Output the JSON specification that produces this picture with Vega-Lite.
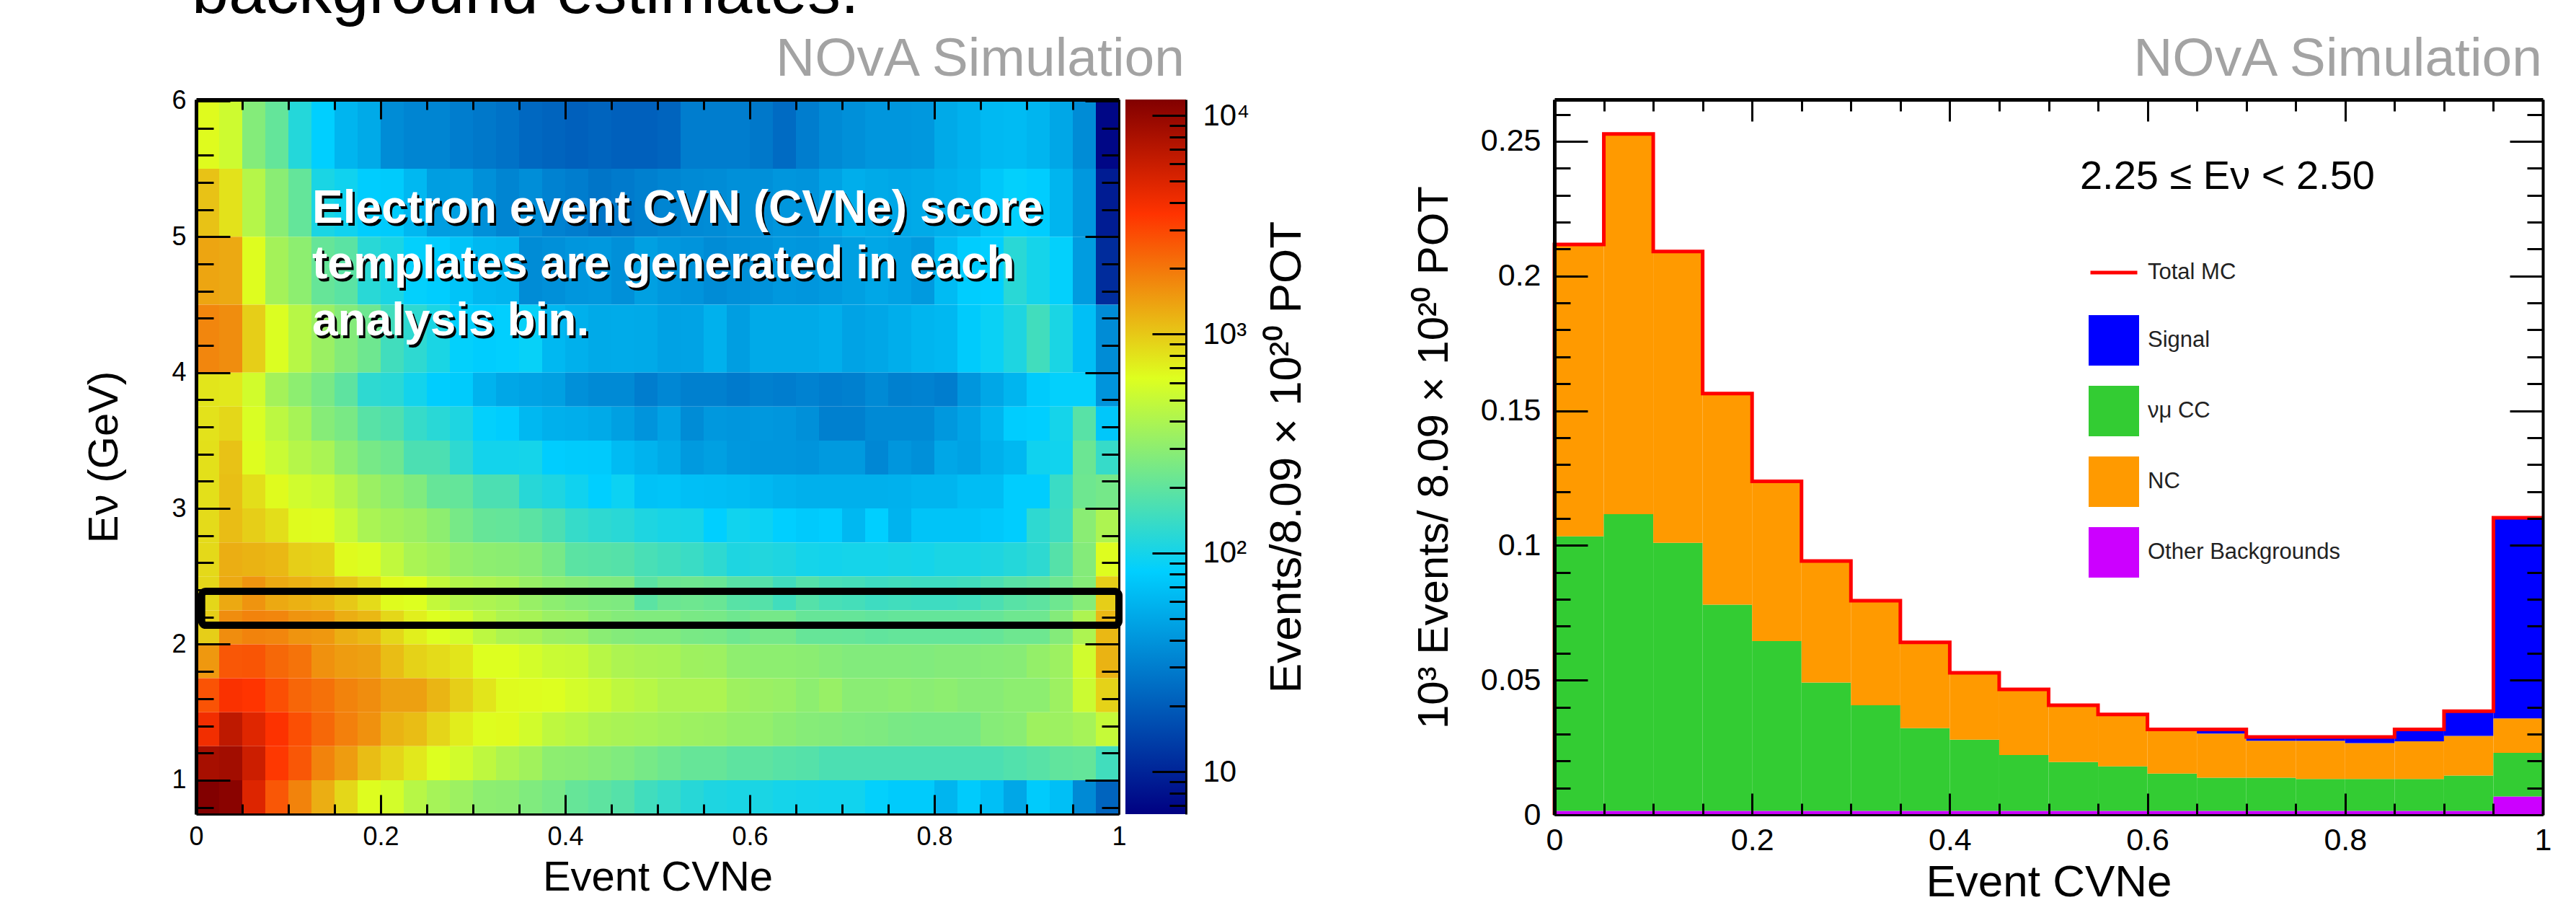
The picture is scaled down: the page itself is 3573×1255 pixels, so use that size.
{"$schema":"https://vega.github.io/schema/vega-lite/v6.json","autosize":"none","background":"white","padding":{"left":272,"top":138,"right":3301,"bottom":1117},"bounds":"flush","spacing":9,"config":{"view":{"stroke":null},"axis":{"labelFont":"Liberation Sans","titleFont":"Liberation Sans","titleFontWeight":"normal","labelColor":"#000","titleColor":"#000","tickColor":"#000","domainColor":"#000","grid":false,"labelOverlap":false,"labelBound":false,"labelFlush":false,"tickWidth":3},"legend":{"labelFont":"Liberation Sans","labelColor":"#222"}},"datasets":{"xbins":[{"c":0,"x0":0,"x1":0.025},{"c":1,"x0":0.025,"x1":0.05},{"c":2,"x0":0.05,"x1":0.075},{"c":3,"x0":0.075,"x1":0.1},{"c":4,"x0":0.1,"x1":0.125},{"c":5,"x0":0.125,"x1":0.15},{"c":6,"x0":0.15,"x1":0.175},{"c":7,"x0":0.175,"x1":0.2},{"c":8,"x0":0.2,"x1":0.225},{"c":9,"x0":0.225,"x1":0.25},{"c":10,"x0":0.25,"x1":0.275},{"c":11,"x0":0.275,"x1":0.3},{"c":12,"x0":0.3,"x1":0.325},{"c":13,"x0":0.325,"x1":0.35},{"c":14,"x0":0.35,"x1":0.375},{"c":15,"x0":0.375,"x1":0.4},{"c":16,"x0":0.4,"x1":0.425},{"c":17,"x0":0.425,"x1":0.45},{"c":18,"x0":0.45,"x1":0.475},{"c":19,"x0":0.475,"x1":0.5},{"c":20,"x0":0.5,"x1":0.525},{"c":21,"x0":0.525,"x1":0.55},{"c":22,"x0":0.55,"x1":0.575},{"c":23,"x0":0.575,"x1":0.6},{"c":24,"x0":0.6,"x1":0.625},{"c":25,"x0":0.625,"x1":0.65},{"c":26,"x0":0.65,"x1":0.675},{"c":27,"x0":0.675,"x1":0.7},{"c":28,"x0":0.7,"x1":0.725},{"c":29,"x0":0.725,"x1":0.75},{"c":30,"x0":0.75,"x1":0.775},{"c":31,"x0":0.775,"x1":0.8},{"c":32,"x0":0.8,"x1":0.825},{"c":33,"x0":0.825,"x1":0.85},{"c":34,"x0":0.85,"x1":0.875},{"c":35,"x0":0.875,"x1":0.9},{"c":36,"x0":0.9,"x1":0.925},{"c":37,"x0":0.925,"x1":0.95},{"c":38,"x0":0.95,"x1":0.975},{"c":39,"x0":0.975,"x1":1}],"ebins":[{"r":0,"e0":0.75,"e1":1},{"r":1,"e0":1,"e1":1.25},{"r":2,"e0":1.25,"e1":1.5},{"r":3,"e0":1.5,"e1":1.75},{"r":4,"e0":1.75,"e1":2},{"r":5,"e0":2,"e1":2.25},{"r":6,"e0":2.25,"e1":2.5},{"r":7,"e0":2.5,"e1":2.75},{"r":8,"e0":2.75,"e1":3},{"r":9,"e0":3,"e1":3.25},{"r":10,"e0":3.25,"e1":3.5},{"r":11,"e0":3.5,"e1":3.75},{"r":12,"e0":3.75,"e1":4},{"r":13,"e0":4,"e1":4.5},{"r":14,"e0":4.5,"e1":5},{"r":15,"e0":5,"e1":5.5},{"r":16,"e0":5.5,"e1":6.01}],"cells":[
{"r":16,"c":0,"n":650},{"r":16,"c":1,"n":540},{"r":16,"c":2,"n":276},{"r":16,"c":3,"n":205},{"r":16,"c":4,"n":115},{"r":16,"c":5,"n":82},{"r":16,"c":6,"n":60},{"r":16,"c":7,"n":52},{"r":16,"c":8,"n":36},{"r":16,"c":9,"n":33},{"r":16,"c":10,"n":33},{"r":16,"c":11,"n":30},{"r":16,"c":12,"n":28},{"r":16,"c":13,"n":26},{"r":16,"c":14,"n":23},{"r":16,"c":15,"n":22},{"r":16,"c":16,"n":21},{"r":16,"c":17,"n":22},{"r":16,"c":18,"n":21},{"r":16,"c":19,"n":21},{"r":16,"c":20,"n":22},{"r":16,"c":21,"n":30},{"r":16,"c":22,"n":30},{"r":16,"c":23,"n":30},{"r":16,"c":24,"n":28},{"r":16,"c":25,"n":24},{"r":16,"c":26,"n":30},{"r":16,"c":27,"n":35},{"r":16,"c":28,"n":38},{"r":16,"c":29,"n":41},{"r":16,"c":30,"n":41},{"r":16,"c":31,"n":42},{"r":16,"c":32,"n":52},{"r":16,"c":33,"n":57},{"r":16,"c":34,"n":63},{"r":16,"c":35,"n":64},{"r":16,"c":36,"n":60},{"r":16,"c":37,"n":50},{"r":16,"c":38,"n":36},{"r":16,"c":39,"n":7},
{"r":15,"c":0,"n":1050},{"r":15,"c":1,"n":800},{"r":15,"c":2,"n":430},{"r":15,"c":3,"n":290},{"r":15,"c":4,"n":205},{"r":15,"c":5,"n":105},{"r":15,"c":6,"n":95},{"r":15,"c":7,"n":80},{"r":15,"c":8,"n":78},{"r":15,"c":9,"n":62},{"r":15,"c":10,"n":45},{"r":15,"c":11,"n":46},{"r":15,"c":12,"n":38},{"r":15,"c":13,"n":33},{"r":15,"c":14,"n":37},{"r":15,"c":15,"n":32},{"r":15,"c":16,"n":30},{"r":15,"c":17,"n":27},{"r":15,"c":18,"n":29},{"r":15,"c":19,"n":31},{"r":15,"c":20,"n":33},{"r":15,"c":21,"n":35},{"r":15,"c":22,"n":36},{"r":15,"c":23,"n":38},{"r":15,"c":24,"n":38},{"r":15,"c":25,"n":41},{"r":15,"c":26,"n":40},{"r":15,"c":27,"n":47},{"r":15,"c":28,"n":55},{"r":15,"c":29,"n":52},{"r":15,"c":30,"n":50},{"r":15,"c":31,"n":52},{"r":15,"c":32,"n":56},{"r":15,"c":33,"n":60},{"r":15,"c":34,"n":75},{"r":15,"c":35,"n":85},{"r":15,"c":36,"n":80},{"r":15,"c":37,"n":60},{"r":15,"c":38,"n":42},{"r":15,"c":39,"n":9},
{"r":14,"c":0,"n":1350},{"r":14,"c":1,"n":1300},{"r":14,"c":2,"n":640},{"r":14,"c":3,"n":370},{"r":14,"c":4,"n":300},{"r":14,"c":5,"n":210},{"r":14,"c":6,"n":190},{"r":14,"c":7,"n":120},{"r":14,"c":8,"n":105},{"r":14,"c":9,"n":85},{"r":14,"c":10,"n":80},{"r":14,"c":11,"n":72},{"r":14,"c":12,"n":62},{"r":14,"c":13,"n":60},{"r":14,"c":14,"n":36},{"r":14,"c":15,"n":38},{"r":14,"c":16,"n":41},{"r":14,"c":17,"n":42},{"r":14,"c":18,"n":38},{"r":14,"c":19,"n":46},{"r":14,"c":20,"n":42},{"r":14,"c":21,"n":40},{"r":14,"c":22,"n":36},{"r":14,"c":23,"n":38},{"r":14,"c":24,"n":39},{"r":14,"c":25,"n":42},{"r":14,"c":26,"n":41},{"r":14,"c":27,"n":43},{"r":14,"c":28,"n":46},{"r":14,"c":29,"n":50},{"r":14,"c":30,"n":47},{"r":14,"c":31,"n":43},{"r":14,"c":32,"n":64},{"r":14,"c":33,"n":80},{"r":14,"c":34,"n":82},{"r":14,"c":35,"n":120},{"r":14,"c":36,"n":100},{"r":14,"c":37,"n":85},{"r":14,"c":38,"n":44},{"r":14,"c":39,"n":11},
{"r":13,"c":0,"n":1750},{"r":13,"c":1,"n":1650},{"r":13,"c":2,"n":950},{"r":13,"c":3,"n":610},{"r":13,"c":4,"n":440},{"r":13,"c":5,"n":340},{"r":13,"c":6,"n":275},{"r":13,"c":7,"n":225},{"r":13,"c":8,"n":150},{"r":13,"c":9,"n":125},{"r":13,"c":10,"n":105},{"r":13,"c":11,"n":85},{"r":13,"c":12,"n":80},{"r":13,"c":13,"n":83},{"r":13,"c":14,"n":88},{"r":13,"c":15,"n":62},{"r":13,"c":16,"n":56},{"r":13,"c":17,"n":52},{"r":13,"c":18,"n":53},{"r":13,"c":19,"n":52},{"r":13,"c":20,"n":47},{"r":13,"c":21,"n":48},{"r":13,"c":22,"n":57},{"r":13,"c":23,"n":45},{"r":13,"c":24,"n":52},{"r":13,"c":25,"n":52},{"r":13,"c":26,"n":52},{"r":13,"c":27,"n":55},{"r":13,"c":28,"n":48},{"r":13,"c":29,"n":50},{"r":13,"c":30,"n":55},{"r":13,"c":31,"n":60},{"r":13,"c":32,"n":62},{"r":13,"c":33,"n":78},{"r":13,"c":34,"n":90},{"r":13,"c":35,"n":108},{"r":13,"c":36,"n":150},{"r":13,"c":37,"n":105},{"r":13,"c":38,"n":68},{"r":13,"c":39,"n":36},
{"r":12,"c":0,"n":780},{"r":12,"c":1,"n":760},{"r":12,"c":2,"n":560},{"r":12,"c":3,"n":370},{"r":12,"c":4,"n":300},{"r":12,"c":5,"n":250},{"r":12,"c":6,"n":195},{"r":12,"c":7,"n":125},{"r":12,"c":8,"n":120},{"r":12,"c":9,"n":98},{"r":12,"c":10,"n":80},{"r":12,"c":11,"n":78},{"r":12,"c":12,"n":58},{"r":12,"c":13,"n":50},{"r":12,"c":14,"n":48},{"r":12,"c":15,"n":46},{"r":12,"c":16,"n":38},{"r":12,"c":17,"n":35},{"r":12,"c":18,"n":35},{"r":12,"c":19,"n":30},{"r":12,"c":20,"n":34},{"r":12,"c":21,"n":31},{"r":12,"c":22,"n":31},{"r":12,"c":23,"n":29},{"r":12,"c":24,"n":31},{"r":12,"c":25,"n":30},{"r":12,"c":26,"n":32},{"r":12,"c":27,"n":30},{"r":12,"c":28,"n":31},{"r":12,"c":29,"n":35},{"r":12,"c":30,"n":31},{"r":12,"c":31,"n":32},{"r":12,"c":32,"n":30},{"r":12,"c":33,"n":41},{"r":12,"c":34,"n":50},{"r":12,"c":35,"n":60},{"r":12,"c":36,"n":78},{"r":12,"c":37,"n":85},{"r":12,"c":38,"n":85},{"r":12,"c":39,"n":40},
{"r":11,"c":0,"n":800},{"r":11,"c":1,"n":880},{"r":11,"c":2,"n":600},{"r":11,"c":3,"n":460},{"r":11,"c":4,"n":380},{"r":11,"c":5,"n":280},{"r":11,"c":6,"n":250},{"r":11,"c":7,"n":185},{"r":11,"c":8,"n":170},{"r":11,"c":9,"n":135},{"r":11,"c":10,"n":120},{"r":11,"c":11,"n":108},{"r":11,"c":12,"n":85},{"r":11,"c":13,"n":80},{"r":11,"c":14,"n":62},{"r":11,"c":15,"n":56},{"r":11,"c":16,"n":55},{"r":11,"c":17,"n":52},{"r":11,"c":18,"n":46},{"r":11,"c":19,"n":40},{"r":11,"c":20,"n":47},{"r":11,"c":21,"n":36},{"r":11,"c":22,"n":42},{"r":11,"c":23,"n":41},{"r":11,"c":24,"n":42},{"r":11,"c":25,"n":41},{"r":11,"c":26,"n":38},{"r":11,"c":27,"n":31},{"r":11,"c":28,"n":31},{"r":11,"c":29,"n":35},{"r":11,"c":30,"n":35},{"r":11,"c":31,"n":35},{"r":11,"c":32,"n":42},{"r":11,"c":33,"n":48},{"r":11,"c":34,"n":60},{"r":11,"c":35,"n":80},{"r":11,"c":36,"n":82},{"r":11,"c":37,"n":100},{"r":11,"c":38,"n":185},{"r":11,"c":39,"n":75},
{"r":10,"c":0,"n":820},{"r":10,"c":1,"n":1050},{"r":10,"c":2,"n":640},{"r":10,"c":3,"n":520},{"r":10,"c":4,"n":430},{"r":10,"c":5,"n":390},{"r":10,"c":6,"n":300},{"r":10,"c":7,"n":245},{"r":10,"c":8,"n":225},{"r":10,"c":9,"n":165},{"r":10,"c":10,"n":165},{"r":10,"c":11,"n":125},{"r":10,"c":12,"n":98},{"r":10,"c":13,"n":98},{"r":10,"c":14,"n":100},{"r":10,"c":15,"n":80},{"r":10,"c":16,"n":78},{"r":10,"c":17,"n":77},{"r":10,"c":18,"n":64},{"r":10,"c":19,"n":58},{"r":10,"c":20,"n":52},{"r":10,"c":21,"n":43},{"r":10,"c":22,"n":46},{"r":10,"c":23,"n":42},{"r":10,"c":24,"n":41},{"r":10,"c":25,"n":41},{"r":10,"c":26,"n":40},{"r":10,"c":27,"n":43},{"r":10,"c":28,"n":43},{"r":10,"c":29,"n":34},{"r":10,"c":30,"n":41},{"r":10,"c":31,"n":38},{"r":10,"c":32,"n":50},{"r":10,"c":33,"n":47},{"r":10,"c":34,"n":56},{"r":10,"c":35,"n":62},{"r":10,"c":36,"n":95},{"r":10,"c":37,"n":96},{"r":10,"c":38,"n":220},{"r":10,"c":39,"n":135},
{"r":9,"c":0,"n":820},{"r":9,"c":1,"n":1080},{"r":9,"c":2,"n":830},{"r":9,"c":3,"n":650},{"r":9,"c":4,"n":550},{"r":9,"c":5,"n":520},{"r":9,"c":6,"n":420},{"r":9,"c":7,"n":340},{"r":9,"c":8,"n":300},{"r":9,"c":9,"n":265},{"r":9,"c":10,"n":210},{"r":9,"c":11,"n":205},{"r":9,"c":12,"n":165},{"r":9,"c":13,"n":165},{"r":9,"c":14,"n":118},{"r":9,"c":15,"n":108},{"r":9,"c":16,"n":95},{"r":9,"c":17,"n":82},{"r":9,"c":18,"n":92},{"r":9,"c":19,"n":70},{"r":9,"c":20,"n":72},{"r":9,"c":21,"n":68},{"r":9,"c":22,"n":67},{"r":9,"c":23,"n":65},{"r":9,"c":24,"n":62},{"r":9,"c":25,"n":58},{"r":9,"c":26,"n":56},{"r":9,"c":27,"n":56},{"r":9,"c":28,"n":56},{"r":9,"c":29,"n":56},{"r":9,"c":30,"n":57},{"r":9,"c":31,"n":60},{"r":9,"c":32,"n":60},{"r":9,"c":33,"n":66},{"r":9,"c":34,"n":66},{"r":9,"c":35,"n":80},{"r":9,"c":36,"n":80},{"r":9,"c":37,"n":140},{"r":9,"c":38,"n":225},{"r":9,"c":39,"n":240},
{"r":8,"c":0,"n":850},{"r":8,"c":1,"n":1100},{"r":8,"c":2,"n":950},{"r":8,"c":3,"n":830},{"r":8,"c":4,"n":650},{"r":8,"c":5,"n":640},{"r":8,"c":6,"n":500},{"r":8,"c":7,"n":390},{"r":8,"c":8,"n":360},{"r":8,"c":9,"n":340},{"r":8,"c":10,"n":300},{"r":8,"c":11,"n":245},{"r":8,"c":12,"n":210},{"r":8,"c":13,"n":205},{"r":8,"c":14,"n":190},{"r":8,"c":15,"n":165},{"r":8,"c":16,"n":135},{"r":8,"c":17,"n":125},{"r":8,"c":18,"n":120},{"r":8,"c":19,"n":108},{"r":8,"c":20,"n":103},{"r":8,"c":21,"n":102},{"r":8,"c":22,"n":82},{"r":8,"c":23,"n":96},{"r":8,"c":24,"n":92},{"r":8,"c":25,"n":82},{"r":8,"c":26,"n":77},{"r":8,"c":27,"n":80},{"r":8,"c":28,"n":62},{"r":8,"c":29,"n":82},{"r":8,"c":30,"n":58},{"r":8,"c":31,"n":72},{"r":8,"c":32,"n":72},{"r":8,"c":33,"n":72},{"r":8,"c":34,"n":76},{"r":8,"c":35,"n":80},{"r":8,"c":36,"n":125},{"r":8,"c":37,"n":145},{"r":8,"c":38,"n":290},{"r":8,"c":39,"n":400},
{"r":7,"c":0,"n":870},{"r":7,"c":1,"n":1250},{"r":7,"c":2,"n":1200},{"r":7,"c":3,"n":1150},{"r":7,"c":4,"n":950},{"r":7,"c":5,"n":920},{"r":7,"c":6,"n":650},{"r":7,"c":7,"n":610},{"r":7,"c":8,"n":480},{"r":7,"c":9,"n":390},{"r":7,"c":10,"n":360},{"r":7,"c":11,"n":320},{"r":7,"c":12,"n":300},{"r":7,"c":13,"n":295},{"r":7,"c":14,"n":280},{"r":7,"c":15,"n":245},{"r":7,"c":16,"n":190},{"r":7,"c":17,"n":185},{"r":7,"c":18,"n":180},{"r":7,"c":19,"n":160},{"r":7,"c":20,"n":150},{"r":7,"c":21,"n":140},{"r":7,"c":22,"n":125},{"r":7,"c":23,"n":108},{"r":7,"c":24,"n":112},{"r":7,"c":25,"n":108},{"r":7,"c":26,"n":100},{"r":7,"c":27,"n":98},{"r":7,"c":28,"n":100},{"r":7,"c":29,"n":100},{"r":7,"c":30,"n":102},{"r":7,"c":31,"n":100},{"r":7,"c":32,"n":105},{"r":7,"c":33,"n":105},{"r":7,"c":34,"n":108},{"r":7,"c":35,"n":115},{"r":7,"c":36,"n":125},{"r":7,"c":37,"n":180},{"r":7,"c":38,"n":275},{"r":7,"c":39,"n":640},
{"r":6,"c":0,"n":880},{"r":6,"c":1,"n":1300},{"r":6,"c":2,"n":1550},{"r":6,"c":3,"n":1300},{"r":6,"c":4,"n":1220},{"r":6,"c":5,"n":1150},{"r":6,"c":6,"n":1000},{"r":6,"c":7,"n":850},{"r":6,"c":8,"n":650},{"r":6,"c":9,"n":620},{"r":6,"c":10,"n":490},{"r":6,"c":11,"n":420},{"r":6,"c":12,"n":400},{"r":6,"c":13,"n":380},{"r":6,"c":14,"n":330},{"r":6,"c":15,"n":300},{"r":6,"c":16,"n":280},{"r":6,"c":17,"n":265},{"r":6,"c":18,"n":260},{"r":6,"c":19,"n":190},{"r":6,"c":20,"n":220},{"r":6,"c":21,"n":225},{"r":6,"c":22,"n":215},{"r":6,"c":23,"n":185},{"r":6,"c":24,"n":180},{"r":6,"c":25,"n":150},{"r":6,"c":26,"n":180},{"r":6,"c":27,"n":160},{"r":6,"c":28,"n":155},{"r":6,"c":29,"n":145},{"r":6,"c":30,"n":150},{"r":6,"c":31,"n":145},{"r":6,"c":32,"n":145},{"r":6,"c":33,"n":150},{"r":6,"c":34,"n":165},{"r":6,"c":35,"n":185},{"r":6,"c":36,"n":195},{"r":6,"c":37,"n":225},{"r":6,"c":38,"n":280},{"r":6,"c":39,"n":950},
{"r":5,"c":0,"n":950},{"r":5,"c":1,"n":1650},{"r":5,"c":2,"n":1800},{"r":5,"c":3,"n":1750},{"r":5,"c":4,"n":1550},{"r":5,"c":5,"n":1500},{"r":5,"c":6,"n":1250},{"r":5,"c":7,"n":1150},{"r":5,"c":8,"n":880},{"r":5,"c":9,"n":720},{"r":5,"c":10,"n":620},{"r":5,"c":11,"n":570},{"r":5,"c":12,"n":460},{"r":5,"c":13,"n":400},{"r":5,"c":14,"n":380},{"r":5,"c":15,"n":340},{"r":5,"c":16,"n":330},{"r":5,"c":17,"n":290},{"r":5,"c":18,"n":275},{"r":5,"c":19,"n":265},{"r":5,"c":20,"n":265},{"r":5,"c":21,"n":250},{"r":5,"c":22,"n":245},{"r":5,"c":23,"n":225},{"r":5,"c":24,"n":240},{"r":5,"c":25,"n":240},{"r":5,"c":26,"n":210},{"r":5,"c":27,"n":210},{"r":5,"c":28,"n":208},{"r":5,"c":29,"n":200},{"r":5,"c":30,"n":205},{"r":5,"c":31,"n":205},{"r":5,"c":32,"n":205},{"r":5,"c":33,"n":205},{"r":5,"c":34,"n":210},{"r":5,"c":35,"n":225},{"r":5,"c":36,"n":225},{"r":5,"c":37,"n":275},{"r":5,"c":38,"n":400},{"r":5,"c":39,"n":1150},
{"r":4,"c":0,"n":1500},{"r":4,"c":1,"n":2600},{"r":4,"c":2,"n":2650},{"r":4,"c":3,"n":2250},{"r":4,"c":4,"n":2050},{"r":4,"c":5,"n":1600},{"r":4,"c":6,"n":1450},{"r":4,"c":7,"n":1400},{"r":4,"c":8,"n":1100},{"r":4,"c":9,"n":920},{"r":4,"c":10,"n":850},{"r":4,"c":11,"n":780},{"r":4,"c":12,"n":620},{"r":4,"c":13,"n":620},{"r":4,"c":14,"n":570},{"r":4,"c":15,"n":520},{"r":4,"c":16,"n":510},{"r":4,"c":17,"n":440},{"r":4,"c":18,"n":400},{"r":4,"c":19,"n":385},{"r":4,"c":20,"n":380},{"r":4,"c":21,"n":350},{"r":4,"c":22,"n":345},{"r":4,"c":23,"n":305},{"r":4,"c":24,"n":300},{"r":4,"c":25,"n":300},{"r":4,"c":26,"n":295},{"r":4,"c":27,"n":280},{"r":4,"c":28,"n":270},{"r":4,"c":29,"n":270},{"r":4,"c":30,"n":270},{"r":4,"c":31,"n":268},{"r":4,"c":32,"n":275},{"r":4,"c":33,"n":275},{"r":4,"c":34,"n":280},{"r":4,"c":35,"n":285},{"r":4,"c":36,"n":320},{"r":4,"c":37,"n":345},{"r":4,"c":38,"n":550},{"r":4,"c":39,"n":1200},
{"r":3,"c":0,"n":2700},{"r":3,"c":1,"n":3700},{"r":3,"c":2,"n":3500},{"r":3,"c":3,"n":2800},{"r":3,"c":4,"n":2300},{"r":3,"c":5,"n":2100},{"r":3,"c":6,"n":1800},{"r":3,"c":7,"n":1650},{"r":3,"c":8,"n":1400},{"r":3,"c":9,"n":1400},{"r":3,"c":10,"n":1180},{"r":3,"c":11,"n":950},{"r":3,"c":12,"n":780},{"r":3,"c":13,"n":650},{"r":3,"c":14,"n":640},{"r":3,"c":15,"n":620},{"r":3,"c":16,"n":570},{"r":3,"c":17,"n":530},{"r":3,"c":18,"n":470},{"r":3,"c":19,"n":440},{"r":3,"c":20,"n":400},{"r":3,"c":21,"n":400},{"r":3,"c":22,"n":400},{"r":3,"c":23,"n":350},{"r":3,"c":24,"n":340},{"r":3,"c":25,"n":330},{"r":3,"c":26,"n":300},{"r":3,"c":27,"n":330},{"r":3,"c":28,"n":290},{"r":3,"c":29,"n":290},{"r":3,"c":30,"n":300},{"r":3,"c":31,"n":290},{"r":3,"c":32,"n":300},{"r":3,"c":33,"n":285},{"r":3,"c":34,"n":285},{"r":3,"c":35,"n":300},{"r":3,"c":36,"n":300},{"r":3,"c":37,"n":345},{"r":3,"c":38,"n":530},{"r":3,"c":39,"n":920},
{"r":2,"c":0,"n":4000},{"r":2,"c":1,"n":6600},{"r":2,"c":2,"n":4800},{"r":2,"c":3,"n":3600},{"r":2,"c":4,"n":2800},{"r":2,"c":5,"n":2250},{"r":2,"c":6,"n":1850},{"r":2,"c":7,"n":1600},{"r":2,"c":8,"n":1200},{"r":2,"c":9,"n":1100},{"r":2,"c":10,"n":900},{"r":2,"c":11,"n":730},{"r":2,"c":12,"n":640},{"r":2,"c":13,"n":650},{"r":2,"c":14,"n":560},{"r":2,"c":15,"n":470},{"r":2,"c":16,"n":440},{"r":2,"c":17,"n":400},{"r":2,"c":18,"n":385},{"r":2,"c":19,"n":375},{"r":2,"c":20,"n":360},{"r":2,"c":21,"n":345},{"r":2,"c":22,"n":340},{"r":2,"c":23,"n":320},{"r":2,"c":24,"n":315},{"r":2,"c":25,"n":295},{"r":2,"c":26,"n":280},{"r":2,"c":27,"n":275},{"r":2,"c":28,"n":265},{"r":2,"c":29,"n":260},{"r":2,"c":30,"n":250},{"r":2,"c":31,"n":245},{"r":2,"c":32,"n":245},{"r":2,"c":33,"n":245},{"r":2,"c":34,"n":280},{"r":2,"c":35,"n":290},{"r":2,"c":36,"n":350},{"r":2,"c":37,"n":345},{"r":2,"c":38,"n":375},{"r":2,"c":39,"n":500},
{"r":1,"c":0,"n":8300},{"r":1,"c":1,"n":8700},{"r":1,"c":2,"n":5800},{"r":1,"c":3,"n":3400},{"r":1,"c":4,"n":2600},{"r":1,"c":5,"n":1800},{"r":1,"c":6,"n":1450},{"r":1,"c":7,"n":1100},{"r":1,"c":8,"n":900},{"r":1,"c":9,"n":760},{"r":1,"c":10,"n":620},{"r":1,"c":11,"n":560},{"r":1,"c":12,"n":470},{"r":1,"c":13,"n":400},{"r":1,"c":14,"n":360},{"r":1,"c":15,"n":300},{"r":1,"c":16,"n":295},{"r":1,"c":17,"n":280},{"r":1,"c":18,"n":265},{"r":1,"c":19,"n":245},{"r":1,"c":20,"n":225},{"r":1,"c":21,"n":210},{"r":1,"c":22,"n":210},{"r":1,"c":23,"n":195},{"r":1,"c":24,"n":195},{"r":1,"c":25,"n":185},{"r":1,"c":26,"n":180},{"r":1,"c":27,"n":165},{"r":1,"c":28,"n":165},{"r":1,"c":29,"n":165},{"r":1,"c":30,"n":165},{"r":1,"c":31,"n":165},{"r":1,"c":32,"n":165},{"r":1,"c":33,"n":165},{"r":1,"c":34,"n":165},{"r":1,"c":35,"n":175},{"r":1,"c":36,"n":185},{"r":1,"c":37,"n":200},{"r":1,"c":38,"n":205},{"r":1,"c":39,"n":150},
{"r":0,"c":0,"n":11800},{"r":0,"c":1,"n":11000},{"r":0,"c":2,"n":4900},{"r":0,"c":3,"n":2600},{"r":0,"c":4,"n":1800},{"r":0,"c":5,"n":1250},{"r":0,"c":6,"n":880},{"r":0,"c":7,"n":640},{"r":0,"c":8,"n":570},{"r":0,"c":9,"n":440},{"r":0,"c":10,"n":375},{"r":0,"c":11,"n":345},{"r":0,"c":12,"n":300},{"r":0,"c":13,"n":295},{"r":0,"c":14,"n":265},{"r":0,"c":15,"n":245},{"r":0,"c":16,"n":210},{"r":0,"c":17,"n":195},{"r":0,"c":18,"n":180},{"r":0,"c":19,"n":150},{"r":0,"c":20,"n":135},{"r":0,"c":21,"n":118},{"r":0,"c":22,"n":108},{"r":0,"c":23,"n":105},{"r":0,"c":24,"n":105},{"r":0,"c":25,"n":100},{"r":0,"c":26,"n":98},{"r":0,"c":27,"n":96},{"r":0,"c":28,"n":96},{"r":0,"c":29,"n":85},{"r":0,"c":30,"n":78},{"r":0,"c":31,"n":78},{"r":0,"c":32,"n":60},{"r":0,"c":33,"n":78},{"r":0,"c":34,"n":68},{"r":0,"c":35,"n":50},{"r":0,"c":36,"n":78},{"r":0,"c":37,"n":68},{"r":0,"c":38,"n":35},{"r":0,"c":39,"n":22}
]},"hconcat":[
{"width":1280,"height":991,"resolve":{"axis":{"x":"independent","y":"independent"}},"layer":[
{"data":{"name":"cells"},"transform":[{"lookup":"c","from":{"data":{"name":"xbins"},"key":"c","fields":["x0","x1"]}},{"lookup":"r","from":{"data":{"name":"ebins"},"key":"r","fields":["e0","e1"]}}],"mark":{"type":"rect"},"encoding":{
"x":{"field":"x0","type":"quantitative","scale":{"domain":[0,1],"nice":false,"zero":false},"axis":{"zindex":1,"orient":"bottom","title":"Event CVNe","titleFontSize":58,"titlePadding":-3,"labelFontSize":36,"labelPadding":41,"domainWidth":3,"values":[0,0.05,0.1,0.15,0.2,0.25,0.3,0.35,0.4,0.45,0.5,0.55,0.6,0.65,0.7,0.75,0.8,0.85,0.9,0.95,1],"format":"~g","labelExpr":"abs(datum.value*5-round(datum.value*5))<0.000001 ? datum.label : ''","tickSize":{"condition":{"test":"abs(datum.value*5-round(datum.value*5))<0.000001","value":-27},"value":-14}}},
"x2":{"field":"x1"},
"y":{"field":"e0","type":"quantitative","scale":{"domain":[0.75,6.01],"nice":false,"zero":false},"axis":{"zindex":1,"orient":"left","title":"Eν (GeV)","titleFontSize":58,"titlePadding":61,"labelFontSize":36,"labelPadding":61,"domainWidth":5,"values":[0.8,1,1.2,1.4,1.6,1.8,2,2.2,2.4,2.6,2.8,3,3.2,3.4,3.6,3.8,4,4.2,4.4,4.6,4.8,5,5.2,5.4,5.6,5.8,6],"format":"~g","labelExpr":"abs(datum.value-round(datum.value))<0.000001 ? datum.label : ''","tickSize":{"condition":{"test":"abs(datum.value-round(datum.value))<0.000001","value":-47},"value":-24}}},
"y2":{"field":"e1"},
"color":{"field":"n","type":"quantitative","legend":null,"scale":{"type":"log","clamp":true,"domain":[6.4,82.4,628,3540,11830],"range":["#000082","#00cfff","#deff1f","#ff3300","#820000"],"interpolate":"rgb"}}}},
{"data":{"values":[{"x0":0.006,"x1":1,"e0":2.14,"e1":2.39}]},"mark":{"type":"rect","fillOpacity":0,"stroke":"#000","strokeWidth":10,"cornerRadius":6},"encoding":{
"x":{"field":"x0","type":"quantitative","scale":{"domain":[0,1],"nice":false,"zero":false},"axis":{"zindex":1,"orient":"top","title":null,"labels":false,"domainWidth":5,"values":[0,0.05,0.1,0.15,0.2,0.25,0.3,0.35,0.4,0.45,0.5,0.55,0.6,0.65,0.7,0.75,0.8,0.85,0.9,0.95,1],"tickSize":{"condition":{"test":"abs(datum.value*5-round(datum.value*5))<0.000001","value":-27},"value":-14}}},
"x2":{"field":"x1"},
"y":{"field":"e0","type":"quantitative","scale":{"domain":[0.75,6.01],"nice":false,"zero":false},"axis":{"zindex":1,"orient":"right","title":null,"labels":false,"domainWidth":3,"values":[0.8,1,1.2,1.4,1.6,1.8,2,2.2,2.4,2.6,2.8,3,3.2,3.4,3.6,3.8,4,4.2,4.4,4.6,4.8,5,5.2,5.4,5.6,5.8,6],"tickSize":{"condition":{"test":"abs(datum.value-round(datum.value))<0.000001","value":-47},"value":-24}}},
"y2":{"field":"e1"}}},
{"data":{"values":[{"label":"Electron event CVN (CVNe) score","px":0.1258,"e":5.1},{"label":"templates are generated in each","px":0.1258,"e":4.694},{"label":"analysis bin.","px":0.1258,"e":4.274}]},"mark":{"type":"text","font":"Liberation Sans","fontWeight":"bold","fontSize":64,"align":"left","baseline":"alphabetic","fill":"#000","dx":3,"dy":4},"encoding":{"x":{"field":"px","type":"quantitative","axis":null,"scale":{"domain":[0,1],"nice":false,"zero":false}},"y":{"field":"e","type":"quantitative","axis":null,"scale":{"domain":[0.75,6.01],"nice":false,"zero":false}},"text":{"field":"label"}}},
{"data":{"values":[{"label":"Electron event CVN (CVNe) score","px":0.1258,"e":5.1},{"label":"templates are generated in each","px":0.1258,"e":4.694},{"label":"analysis bin.","px":0.1258,"e":4.274}]},"mark":{"type":"text","font":"Liberation Sans","fontWeight":"bold","fontSize":64,"align":"left","baseline":"alphabetic","fill":"#fff"},"encoding":{"x":{"field":"px","type":"quantitative","axis":null,"scale":{"domain":[0,1],"nice":false,"zero":false}},"y":{"field":"e","type":"quantitative","axis":null,"scale":{"domain":[0.75,6.01],"nice":false,"zero":false}},"text":{"field":"label"}}},
{"data":{"values":[{"label":"background estimates.","px":-0.0047,"e":6.647}]},"mark":{"type":"text","font":"Liberation Sans","fontSize":92,"align":"left","baseline":"alphabetic","fill":"#000"},"encoding":{"x":{"field":"px","type":"quantitative","axis":null,"scale":{"domain":[0,1],"nice":false,"zero":false}},"y":{"field":"e","type":"quantitative","axis":null,"scale":{"domain":[0.75,6.01],"nice":false,"zero":false}},"text":{"field":"label"}}},
{"data":{"values":[{"label":"NOvA Simulation","px":1.0711,"e":6.185}]},"mark":{"type":"text","font":"Liberation Sans","fontSize":75,"align":"right","baseline":"alphabetic","fill":"#a3a3a3"},"encoding":{"x":{"field":"px","type":"quantitative","axis":null,"scale":{"domain":[0,1],"nice":false,"zero":false}},"y":{"field":"e","type":"quantitative","axis":null,"scale":{"domain":[0.75,6.01],"nice":false,"zero":false}},"text":{"field":"label"}}}
]},
{"width":84,"height":991,"data":{"values":[{"lo":6.4,"hi":11830}]},"mark":{"type":"rect","fill":{"gradient":"linear","x1":0,"y1":1,"x2":0,"y2":0,"stops":[{"offset":0,"color":"#000082"},{"offset":0.34,"color":"#00cfff"},{"offset":0.61,"color":"#deff1f"},{"offset":0.84,"color":"#ff3300"},{"offset":1,"color":"#820000"}]}},"encoding":{"y":{"field":"lo","type":"quantitative","scale":{"type":"log","domain":[6.4,11830],"nice":false},"axis":{"zindex":1,"orient":"right","title":"Events/8.09 × 10²⁰ POT","titleFontSize":62,"titleAngle":270,"titlePadding":84,"labelFontSize":42,"labelPadding":70,"domainWidth":3,"values":[7,8,9,10,20,30,40,50,60,70,80,90,100,200,300,400,500,600,700,800,900,1000,2000,3000,4000,5000,6000,7000,8000,9000,10000],"labelExpr":"datum.value==10?'10':datum.value==100?'10²':datum.value==1000?'10³':datum.value==10000?'10⁴':''","tickSize":{"condition":{"test":"datum.value==10||datum.value==100||datum.value==1000||datum.value==10000","value":-47},"value":-23}}},"y2":{"field":"hi"}}},
{"width":493,"height":10,"data":{"values":[]},"mark":{"type":"rect"},"encoding":{}},
{"width":1371,"height":992,"resolve":{"axis":{"x":"independent","y":"independent"}},"layer":[
{"data":{"values":[
{"lo":0,"hi":0.05,"k":0,"comp":"Other Backgrounds","events":0.0015},{"lo":0,"hi":0.05,"k":1,"comp":"νμ CC","events":0.1019},{"lo":0,"hi":0.05,"k":2,"comp":"NC","events":0.1081},{"lo":0,"hi":0.05,"k":3,"comp":"Signal","events":0.0002},
{"lo":0.05,"hi":0.1,"k":0,"comp":"Other Backgrounds","events":0.0015},{"lo":0.05,"hi":0.1,"k":1,"comp":"νμ CC","events":0.1101},{"lo":0.05,"hi":0.1,"k":2,"comp":"NC","events":0.1409},{"lo":0.05,"hi":0.1,"k":3,"comp":"Signal","events":0.0002},
{"lo":0.1,"hi":0.15,"k":0,"comp":"Other Backgrounds","events":0.0015},{"lo":0.1,"hi":0.15,"k":1,"comp":"νμ CC","events":0.0995},{"lo":0.1,"hi":0.15,"k":2,"comp":"NC","events":0.1079},{"lo":0.1,"hi":0.15,"k":3,"comp":"Signal","events":0.0002},
{"lo":0.15,"hi":0.2,"k":0,"comp":"Other Backgrounds","events":0.0015},{"lo":0.15,"hi":0.2,"k":1,"comp":"νμ CC","events":0.0765},{"lo":0.15,"hi":0.2,"k":2,"comp":"NC","events":0.0782},{"lo":0.15,"hi":0.2,"k":3,"comp":"Signal","events":0.0002},
{"lo":0.2,"hi":0.25,"k":0,"comp":"Other Backgrounds","events":0.0015},{"lo":0.2,"hi":0.25,"k":1,"comp":"νμ CC","events":0.063},{"lo":0.2,"hi":0.25,"k":2,"comp":"NC","events":0.0591},{"lo":0.2,"hi":0.25,"k":3,"comp":"Signal","events":0.0002},
{"lo":0.25,"hi":0.3,"k":0,"comp":"Other Backgrounds","events":0.0015},{"lo":0.25,"hi":0.3,"k":1,"comp":"νμ CC","events":0.0476},{"lo":0.25,"hi":0.3,"k":2,"comp":"NC","events":0.0449},{"lo":0.25,"hi":0.3,"k":3,"comp":"Signal","events":0.0002},
{"lo":0.3,"hi":0.35,"k":0,"comp":"Other Backgrounds","events":0.0015},{"lo":0.3,"hi":0.35,"k":1,"comp":"νμ CC","events":0.0392},{"lo":0.3,"hi":0.35,"k":2,"comp":"NC","events":0.0386},{"lo":0.3,"hi":0.35,"k":3,"comp":"Signal","events":0.0002},
{"lo":0.35,"hi":0.4,"k":0,"comp":"Other Backgrounds","events":0.0015},{"lo":0.35,"hi":0.4,"k":1,"comp":"νμ CC","events":0.0307},{"lo":0.35,"hi":0.4,"k":2,"comp":"NC","events":0.0316},{"lo":0.35,"hi":0.4,"k":3,"comp":"Signal","events":0.0002},
{"lo":0.4,"hi":0.45,"k":0,"comp":"Other Backgrounds","events":0.0015},{"lo":0.4,"hi":0.45,"k":1,"comp":"νμ CC","events":0.0264},{"lo":0.4,"hi":0.45,"k":2,"comp":"NC","events":0.0246},{"lo":0.4,"hi":0.45,"k":3,"comp":"Signal","events":0.0002},
{"lo":0.45,"hi":0.5,"k":0,"comp":"Other Backgrounds","events":0.0015},{"lo":0.45,"hi":0.5,"k":1,"comp":"νμ CC","events":0.0207},{"lo":0.45,"hi":0.5,"k":2,"comp":"NC","events":0.0241},{"lo":0.45,"hi":0.5,"k":3,"comp":"Signal","events":0.0003},
{"lo":0.5,"hi":0.55,"k":0,"comp":"Other Backgrounds","events":0.0015},{"lo":0.5,"hi":0.55,"k":1,"comp":"νμ CC","events":0.0181},{"lo":0.5,"hi":0.55,"k":2,"comp":"NC","events":0.0208},{"lo":0.5,"hi":0.55,"k":3,"comp":"Signal","events":0.0003},
{"lo":0.55,"hi":0.6,"k":0,"comp":"Other Backgrounds","events":0.0015},{"lo":0.55,"hi":0.6,"k":1,"comp":"νμ CC","events":0.0165},{"lo":0.55,"hi":0.6,"k":2,"comp":"NC","events":0.019},{"lo":0.55,"hi":0.6,"k":3,"comp":"Signal","events":0.0003},
{"lo":0.6,"hi":0.65,"k":0,"comp":"Other Backgrounds","events":0.0015},{"lo":0.6,"hi":0.65,"k":1,"comp":"νμ CC","events":0.0138},{"lo":0.6,"hi":0.65,"k":2,"comp":"NC","events":0.016},{"lo":0.6,"hi":0.65,"k":3,"comp":"Signal","events":0.0004},
{"lo":0.65,"hi":0.7,"k":0,"comp":"Other Backgrounds","events":0.0015},{"lo":0.65,"hi":0.7,"k":1,"comp":"νμ CC","events":0.0123},{"lo":0.65,"hi":0.7,"k":2,"comp":"NC","events":0.0164},{"lo":0.65,"hi":0.7,"k":3,"comp":"Signal","events":0.0015},
{"lo":0.7,"hi":0.75,"k":0,"comp":"Other Backgrounds","events":0.0015},{"lo":0.7,"hi":0.75,"k":1,"comp":"νμ CC","events":0.0123},{"lo":0.7,"hi":0.75,"k":2,"comp":"NC","events":0.0137},{"lo":0.7,"hi":0.75,"k":3,"comp":"Signal","events":0.0014},
{"lo":0.75,"hi":0.8,"k":0,"comp":"Other Backgrounds","events":0.0015},{"lo":0.75,"hi":0.8,"k":1,"comp":"νμ CC","events":0.0118},{"lo":0.75,"hi":0.8,"k":2,"comp":"NC","events":0.0142},{"lo":0.75,"hi":0.8,"k":3,"comp":"Signal","events":0.0014},
{"lo":0.8,"hi":0.85,"k":0,"comp":"Other Backgrounds","events":0.0015},{"lo":0.8,"hi":0.85,"k":1,"comp":"νμ CC","events":0.0118},{"lo":0.8,"hi":0.85,"k":2,"comp":"NC","events":0.0133},{"lo":0.8,"hi":0.85,"k":3,"comp":"Signal","events":0.0023},
{"lo":0.85,"hi":0.9,"k":0,"comp":"Other Backgrounds","events":0.0015},{"lo":0.85,"hi":0.9,"k":1,"comp":"νμ CC","events":0.0118},{"lo":0.85,"hi":0.9,"k":2,"comp":"NC","events":0.014},{"lo":0.85,"hi":0.9,"k":3,"comp":"Signal","events":0.0044},
{"lo":0.9,"hi":0.95,"k":0,"comp":"Other Backgrounds","events":0.0015},{"lo":0.9,"hi":0.95,"k":1,"comp":"νμ CC","events":0.0131},{"lo":0.9,"hi":0.95,"k":2,"comp":"NC","events":0.0147},{"lo":0.9,"hi":0.95,"k":3,"comp":"Signal","events":0.0092},
{"lo":0.95,"hi":1,"k":0,"comp":"Other Backgrounds","events":0.0068},{"lo":0.95,"hi":1,"k":1,"comp":"νμ CC","events":0.0162},{"lo":0.95,"hi":1,"k":2,"comp":"NC","events":0.0128},{"lo":0.95,"hi":1,"k":3,"comp":"Signal","events":0.0745}
]},"transform":[{"stack":"events","groupby":["lo"],"sort":[{"field":"k","order":"ascending"}],"as":["y0","y1"]}],"mark":{"type":"rect"},"encoding":{
"x":{"field":"lo","type":"quantitative","scale":{"domain":[0,1],"nice":false,"zero":false},"axis":{"zindex":1,"orient":"bottom","title":"Event CVNe","titleFontSize":62,"titlePadding":-8,"labelFontSize":43,"labelPadding":44,"domainWidth":3,"values":[0,0.05,0.1,0.15,0.2,0.25,0.3,0.35,0.4,0.45,0.5,0.55,0.6,0.65,0.7,0.75,0.8,0.85,0.9,0.95,1],"format":"~g","labelExpr":"abs(datum.value*5-round(datum.value*5))<0.000001 ? datum.label : ''","tickSize":{"condition":{"test":"abs(datum.value*5-round(datum.value*5))<0.000001","value":-30},"value":-16}}},
"x2":{"field":"hi"},
"y":{"field":"y0","type":"quantitative","scale":{"domain":[0,0.2655],"nice":false,"zero":false},"axis":{"zindex":1,"orient":"left","title":"10³ Events/ 8.09 × 10²⁰ POT","titleFontSize":60,"titlePadding":33,"labelFontSize":43,"labelPadding":65,"domainWidth":5,"values":[0,0.01,0.02,0.03,0.04,0.05,0.06,0.07,0.08,0.09,0.1,0.11,0.12,0.13,0.14,0.15,0.16,0.17,0.18,0.19,0.2,0.21,0.22,0.23,0.24,0.25,0.26],"format":"~g","labelExpr":"abs(datum.value*20-round(datum.value*20))<0.000001 ? datum.label : ''","tickSize":{"condition":{"test":"abs(datum.value*20-round(datum.value*20))<0.000001","value":-46},"value":-22}}},
"y2":{"field":"y1"},
"fill":{"field":"comp","type":"nominal","scale":{"domain":["Signal","νμ CC","NC","Other Backgrounds"],"range":["#0000ff","#33cc33","#ff9a00","#cc00ff"]},"legend":{"orient":"none","legendX":2625,"legendY":299,"title":null,"symbolType":"square","symbolSize":4900,"symbolStrokeWidth":0,"symbolOpacity":1,"labelFontSize":31,"labelOffset":12,"rowPadding":28,"labelLimit":400}}}},
{"data":{"values":[{"i":0,"lo":0,"total":0},{"i":1,"lo":0,"total":0.2117},{"i":2,"lo":0.05,"total":0.2527},{"i":3,"lo":0.1,"total":0.2091},{"i":4,"lo":0.15,"total":0.1564},{"i":5,"lo":0.2,"total":0.1238},{"i":6,"lo":0.25,"total":0.0942},{"i":7,"lo":0.3,"total":0.0795},{"i":8,"lo":0.35,"total":0.064},{"i":9,"lo":0.4,"total":0.0527},{"i":10,"lo":0.45,"total":0.0466},{"i":11,"lo":0.5,"total":0.0407},{"i":12,"lo":0.55,"total":0.0373},{"i":13,"lo":0.6,"total":0.0317},{"i":14,"lo":0.65,"total":0.0317},{"i":15,"lo":0.7,"total":0.0289},{"i":16,"lo":0.75,"total":0.0289},{"i":17,"lo":0.8,"total":0.0289},{"i":18,"lo":0.85,"total":0.0317},{"i":19,"lo":0.9,"total":0.0385},{"i":20,"lo":0.95,"total":0.1103},{"i":21,"lo":1,"total":0.1103}]},"mark":{"type":"line","interpolate":"step-after","strokeWidth":5},"encoding":{
"x":{"field":"lo","type":"quantitative","scale":{"domain":[0,1],"nice":false,"zero":false},"axis":{"zindex":1,"orient":"top","title":null,"labels":false,"domainWidth":5,"values":[0,0.05,0.1,0.15,0.2,0.25,0.3,0.35,0.4,0.45,0.5,0.55,0.6,0.65,0.7,0.75,0.8,0.85,0.9,0.95,1],"tickSize":{"condition":{"test":"abs(datum.value*5-round(datum.value*5))<0.000001","value":-30},"value":-16}}},
"y":{"field":"total","type":"quantitative","scale":{"domain":[0,0.2655],"nice":false,"zero":false},"axis":{"zindex":1,"orient":"right","title":null,"labels":false,"domainWidth":4,"values":[0,0.01,0.02,0.03,0.04,0.05,0.06,0.07,0.08,0.09,0.1,0.11,0.12,0.13,0.14,0.15,0.16,0.17,0.18,0.19,0.2,0.21,0.22,0.23,0.24,0.25,0.26],"tickSize":{"condition":{"test":"abs(datum.value*20-round(datum.value*20))<0.000001","value":-46},"value":-22}}},
"order":{"field":"i","type":"quantitative"},
"stroke":{"datum":"Total MC","scale":{"domain":["Total MC"],"range":["#ff0000"]},"legend":{"orient":"none","legendX":2625,"legendY":205,"title":null,"symbolType":"stroke","symbolSize":4225,"symbolStrokeWidth":5,"labelFontSize":31,"labelOffset":12}}}},
{"data":{"values":[{"label":"2.25 ≤ Eν < 2.50","px":0.5317,"ev":0.2323}]},"mark":{"type":"text","font":"Liberation Sans","fontSize":56,"align":"left","baseline":"alphabetic","fill":"#000"},"encoding":{"x":{"field":"px","type":"quantitative","axis":null,"scale":{"domain":[0,1],"nice":false,"zero":false}},"y":{"field":"ev","type":"quantitative","axis":null,"scale":{"domain":[0,0.2655],"nice":false,"zero":false}},"text":{"field":"label"}}},
{"data":{"values":[{"label":"NOvA Simulation","px":0.9993,"ev":0.2743}]},"mark":{"type":"text","font":"Liberation Sans","fontSize":75,"align":"right","baseline":"alphabetic","fill":"#a3a3a3"},"encoding":{"x":{"field":"px","type":"quantitative","axis":null,"scale":{"domain":[0,1],"nice":false,"zero":false}},"y":{"field":"ev","type":"quantitative","axis":null,"scale":{"domain":[0,0.2655],"nice":false,"zero":false}},"text":{"field":"label"}}}
]}
]}
